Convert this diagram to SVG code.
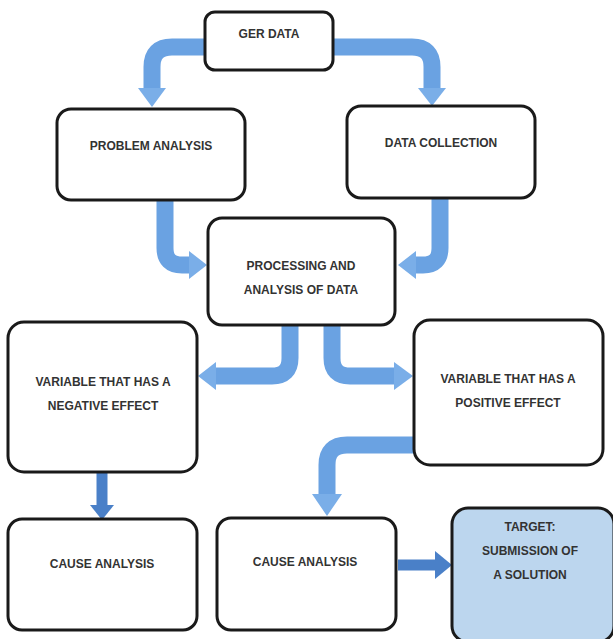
<svg xmlns="http://www.w3.org/2000/svg" width="613" height="639" viewBox="0 0 613 639">
<defs>
<style>
.box{fill:#fff;stroke:#1a1a1a;stroke-width:3}
.tgt{fill:#bcd6ee;stroke:#1a1a1a;stroke-width:3}
.t{font-family:"Liberation Sans",Arial,sans-serif;font-weight:bold;font-size:12px;fill:#333;text-anchor:middle}
.a{fill:none;stroke:#6aa2e2;stroke-width:17;stroke-linejoin:round}
.h{fill:#7aaee8}
.d{fill:none;stroke:#4a80c8;stroke-width:11}
.dh{fill:#4a80c8}
</style>
</defs>
<rect width="613" height="639" fill="#fff"/>
<g id="connectors">
<path class="a" d="M206,47 H172 Q152,47 152,67 V90"/>
<polygon class="h" points="138,88 166,88 152,107"/>
<path class="a" d="M332,47 H412 Q432,47 432,67 V90"/>
<polygon class="h" points="418,88 446,88 432,106"/>
<path class="a" d="M165,200 V248 Q165,265 182,265 H190"/>
<polygon class="h" points="189,251 189,279 207,265"/>
<path class="a" d="M440,198 V248 Q440,265 423,265 H415"/>
<polygon class="h" points="416,251 416,279 398,265"/>
<path class="a" d="M290,325 V358 Q290,376 272,376 H215"/>
<polygon class="h" points="216,362 216,390 198,376"/>
<path class="a" d="M332,325 V358 Q332,376 350,376 H395"/>
<polygon class="h" points="394,362 394,390 413,376"/>
<path class="a" d="M415,445 H347 Q327,445 327,465 V496"/>
<polygon class="h" points="312,494 342,494 327,516"/>
<path class="d" d="M102,472 V506"/>
<polygon class="dh" points="90,505 114,505 102,520"/>
<path class="d" d="M398,565 H436" stroke-width="14"/>
<polygon class="dh" points="435,551 435,579 452,565"/>
</g>
<g id="ger"><rect class="box" x="205" y="12" width="128" height="58" rx="10"/><text class="t" x="269" y="38">GER DATA</text></g>
<g id="problem"><rect class="box" x="57" y="109" width="188" height="91" rx="14"/><text class="t" x="151" y="150">PROBLEM ANALYSIS</text></g>
<g id="collection"><rect class="box" x="347" y="106" width="188" height="92" rx="14"/><text class="t" x="441" y="147">DATA COLLECTION</text></g>
<g id="processing"><rect class="box" x="208" y="218" width="187" height="107" rx="14"/><text class="t" x="301" y="270">PROCESSING AND</text><text class="t" x="301" y="294">ANALYSIS OF DATA</text></g>
<g id="negative"><rect class="box" x="8" y="322" width="189" height="150" rx="16"/><text class="t" x="103" y="386">VARIABLE THAT HAS A</text><text class="t" x="103" y="410">NEGATIVE EFFECT</text></g>
<g id="positive"><rect class="box" x="414" y="320" width="189" height="145" rx="16"/><text class="t" x="508" y="383">VARIABLE THAT HAS A</text><text class="t" x="508" y="407">POSITIVE EFFECT</text></g>
<g id="cause1"><rect class="box" x="8" y="519" width="189" height="111" rx="14"/><text class="t" x="102" y="568">CAUSE ANALYSIS</text></g>
<g id="cause2"><rect class="box" x="217" y="518" width="179" height="112" rx="14"/><text class="t" x="305" y="566">CAUSE ANALYSIS</text></g>
<g id="target"><rect class="tgt" x="452" y="508" width="162" height="134" rx="16"/><text class="t" x="530" y="531">TARGET:</text><text class="t" x="530" y="555">SUBMISSION OF</text><text class="t" x="530" y="579">A SOLUTION</text></g>
</svg>
